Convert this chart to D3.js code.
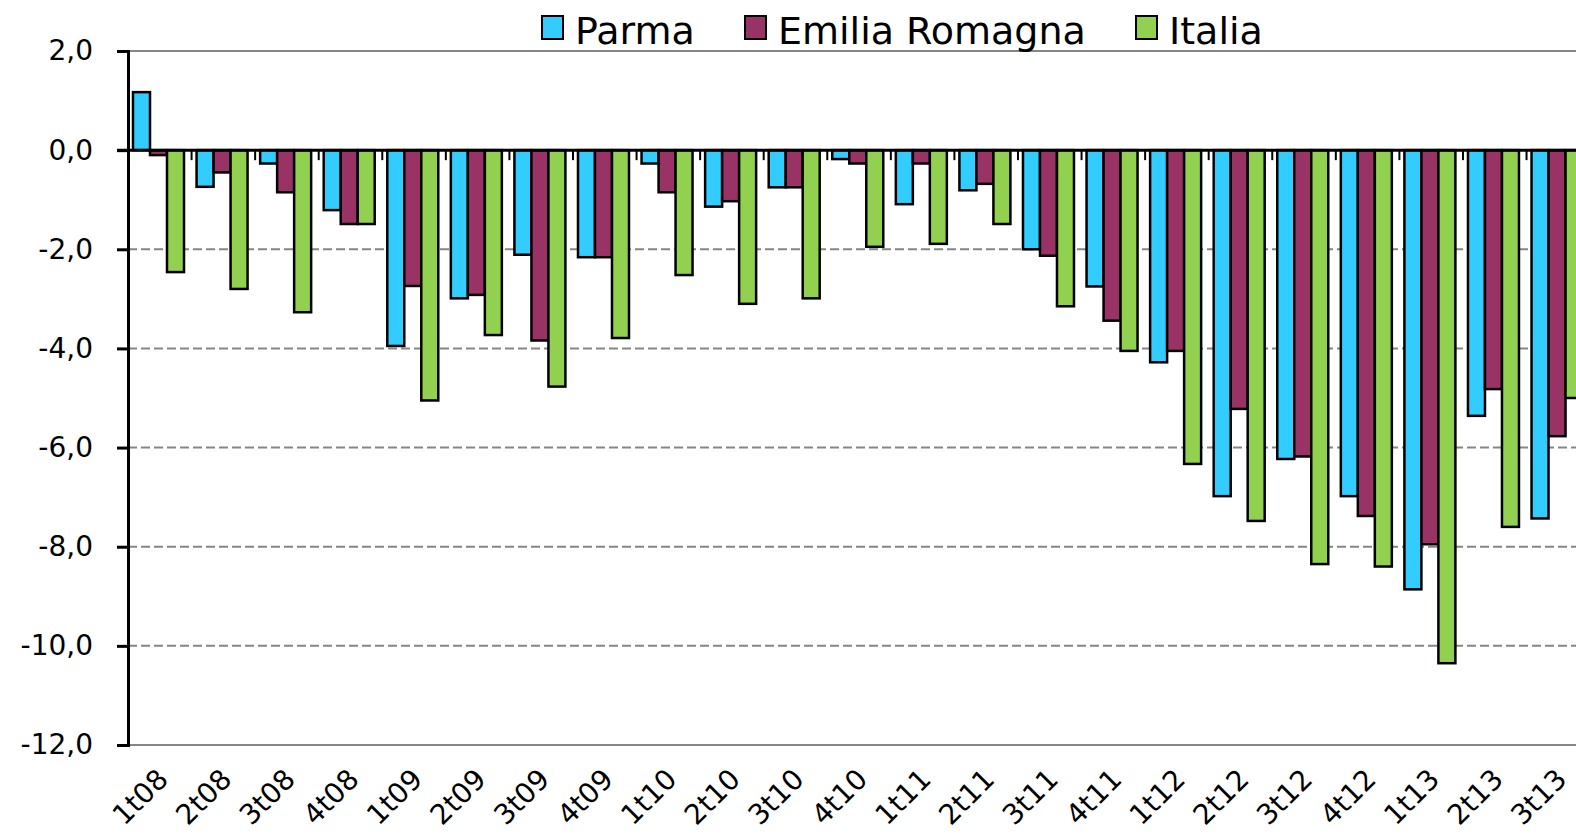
<meta charset="utf-8">
<style>body { margin: 0; }</style>
<script src="https://d3js.org/d3.v7.min.js"></script>
<svg id="my_dataviz" width="1576" height="835"></svg>
<script>
// data
var categories = ["1t08", "2t08", "3t08", "4t08", "1t09", "2t09", "3t09", "4t09", "1t10", "2t10", "3t10", "4t10",
    "1t11", "2t11", "3t11", "4t11", "1t12", "2t12", "3t12", "4t12", "1t13", "2t13", "3t13"]
var seriesNames = ["Parma", "Emilia Romagna", "Italia"]
var parma = [1.17, -0.74, -0.27, -1.21, -3.95, -2.99, -2.11, -2.16, -0.27, -1.14, -0.75, -0.18,
    -1.09, -0.81, -2.0, -2.75, -4.28, -6.98, -6.23, -6.98, -8.86, -5.36, -7.43]
var emilia = [-0.1, -0.45, -0.85, -1.49, -2.74, -2.92, -3.84, -2.16, -0.85, -1.03, -0.75, -0.27,
    -0.27, -0.68, -2.13, -3.44, -4.05, -5.22, -6.18, -7.38, -7.95, -4.82, -5.77]
var italia = [-2.46, -2.8, -3.27, -1.49, -5.05, -3.73, -4.77, -3.79, -2.52, -3.1, -2.99, -1.95,
    -1.89, -1.49, -3.15, -4.05, -6.33, -7.48, -8.35, -8.4, -10.35, -7.6, -5.0]
var yTicks = [2, 0, -2, -4, -6, -8, -10, -12]

var colors = ["#33ccff", "#993366", "#92d050"]
var series = [parma, emilia, italia]

var svg = d3.select("svg")
var fontFamily = "'DejaVu Sans', Verdana, sans-serif"

// scales
var left = 128
var step = 63.57
var x0 = d3.scaleBand()
    .domain(categories)
    .range([left, left + step * categories.length])
    .padding(0)
var x1 = d3.scaleBand()
    .domain(seriesNames)
    .range([5, 5 + 17 * 3])
var y = d3.scaleLinear()
    .domain([-12, 2])
    .range([745, 51])

// gridlines
svg.append("g")
    .selectAll("line")
    .data(yTicks.filter(d => d != 0))
    .enter().append("line")
    .attr("x1", left)
    .attr("x2", 1576)
    .attr("y1", d => y(d))
    .attr("y2", d => y(d))
    .style("stroke", "#868686")
    .style("stroke-width", 2)
    .style("stroke-dasharray", d => (d == 2 || d == -12) ? null : "9,4")

// bars
var rows = categories.map((c, i) => seriesNames.map((s, j) => ({ cat: c, name: s, value: series[j][i], color: colors[j] })))
svg.append("g")
    .selectAll("g")
    .data(rows)
    .enter().append("g")
    .attr("transform", d => "translate(" + x0(d[0].cat) + ",0)")
    .selectAll("rect")
    .data(d => d)
    .enter().append("rect")
    .attr("x", d => x1(d.name))
    .attr("width", x1.bandwidth())
    .attr("y", d => y(Math.max(0, d.value)))
    .attr("height", d => Math.abs(y(d.value) - y(0)))
    .attr("fill", d => d.color)
    .style("stroke", "#000")
    .style("stroke-width", 2.5)

// zero axis with category ticks
svg.append("line")
    .attr("x1", 117).attr("x2", 1576)
    .attr("y1", y(0)).attr("y2", y(0))
    .style("stroke", "#000").style("stroke-width", 3)
svg.append("g")
    .selectAll("line")
    .data(categories.slice(1))
    .enter().append("line")
    .attr("x1", d => x0(d)).attr("x2", d => x0(d))
    .attr("y1", y(0)).attr("y2", y(0) + 10)
    .style("stroke", "#000").style("stroke-width", 2)

// y axis
var yAxis = svg.append("g")
    .attr("transform", "translate(" + left + ",0)")
    .call(d3.axisLeft(y).tickValues(yTicks).tickSize(11).tickPadding(24)
        .tickFormat(d => d.toFixed(1).replace(".", ",")))
yAxis.select(".domain").style("stroke", "#000").style("stroke-width", 3)
yAxis.selectAll(".tick line").style("stroke", "#000").style("stroke-width", 3)
yAxis.selectAll("text")
    .style("font-family", fontFamily)
    .style("font-size", "28px")
    .style("fill", "#000")

// category labels
svg.append("g")
    .selectAll("text")
    .data(categories)
    .enter().append("text")
    .attr("transform", d => "translate(" + (x0(d) + x0.bandwidth() / 2 + 10) + ",781) rotate(-45)")
    .attr("text-anchor", "end")
    .style("font-family", fontFamily)
    .style("font-size", "28px")
    .text(d => d)

// legend
var legendX = [542, 745, 1136]
var legend = svg.append("g")
    .selectAll("g")
    .data(seriesNames)
    .enter().append("g")
    .attr("transform", (d, i) => "translate(" + legendX[i] + ",0)")
legend.append("rect")
    .attr("x", 0).attr("y", 16)
    .attr("width", 21).attr("height", 23)
    .attr("fill", (d, i) => colors[i])
    .style("stroke", "#000").style("stroke-width", 2)
legend.append("text")
    .attr("x", 33).attr("y", 44)
    .style("font-family", fontFamily)
    .style("font-size", "38px")
    .text(d => d)
</script>
